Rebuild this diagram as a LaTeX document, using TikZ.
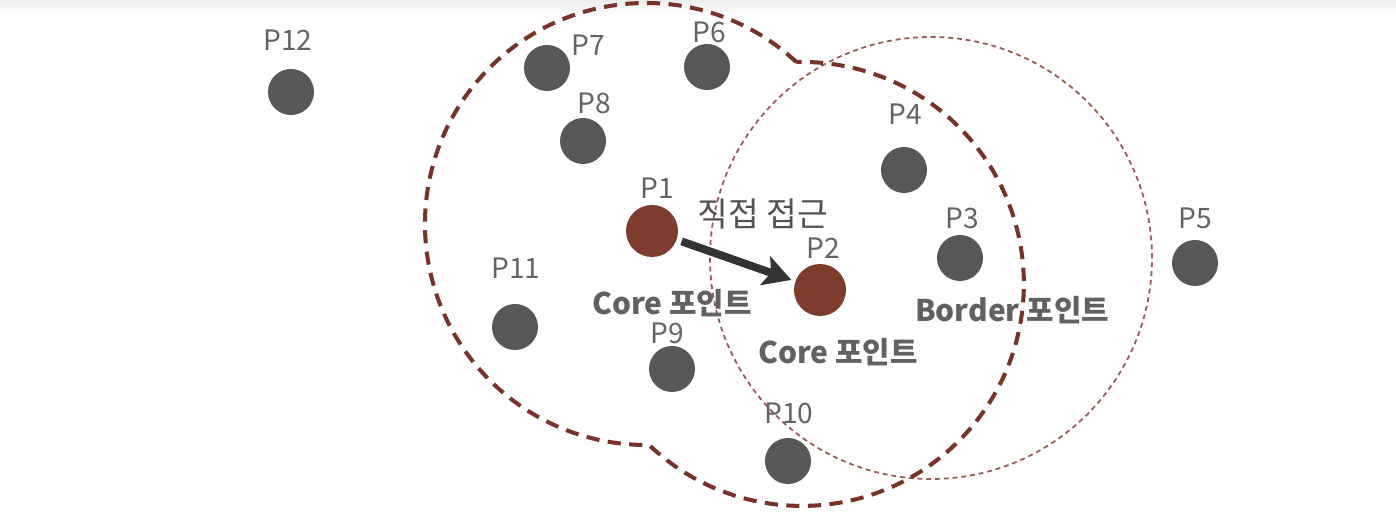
\documentclass[tikz,border=0pt]{standalone}
\usepackage{fontspec}
\setmainfont{Noto Sans CJK KR}
\usepackage{tikz}
\usetikzlibrary{positioning,arrows.meta}
\definecolor{ptgray}{RGB}{87,87,87}
\definecolor{corered}{RGB}{125,60,44}
\definecolor{edgered}{RGB}{120,50,40}
\definecolor{txtgray}{RGB}{100,100,100}
\tikzstyle{gpoint}=[circle, fill=ptgray, minimum size=0.92cm, inner sep=0pt]
\tikzstyle{cpoint}=[circle, fill=corered, minimum size=1.04cm, inner sep=0pt]
\tikzstyle{plabel}=[text=txtgray, font=\fontsize{16}{18}\selectfont, inner sep=0pt]
\tikzstyle{tag}=[text=black!62, font=\bfseries\fontsize{17}{20}\selectfont, inner sep=0pt]
\tikzstyle{coreline}=[edgered, line width=2.3pt, dash pattern=on 7.5pt off 4.8pt]
\tikzstyle{reachline}=[edgered!80, line width=1pt, dash pattern=on 2.8pt off 2.2pt]

\begin{document}
\begin{tikzpicture}
            \useasboundingbox (0,0) rectangle (27.92,10.48);
            \shade[top color=black!7, bottom color=white] (0,10.18) rectangle (27.92,10.48);

            % neighbourhoods
            \draw[reachline] (18.62,5.32) circle (4.42);
            \draw[coreline] (15.928,9.238) arc[start angle=47.1, end angle=270.8, radius=4.42]
                arc[start angle=226.5, end angle=451.4, radius=4.44] -- cycle;

            \node[gpoint] (p12) at (5.82,8.64) {};
            \node[gpoint] (p7) at (10.94,9.12) {};
            \node[gpoint] (p6) at (14.14,9.14) {};
            \node[gpoint] (p8) at (11.66,7.66) {};
            \node[gpoint] (p4) at (18.08,7.08) {};
            \node[cpoint] (p1) at (13.04,5.86) {};
            \node[gpoint] (p3) at (19.20,5.32) {};
            \node[gpoint] (p5) at (23.90,5.22) {};
            \node[cpoint] (p2) at (16.40,4.68) {};
            \node[gpoint] (p11) at (10.30,3.94) {};
            \node[gpoint] (p9) at (13.44,3.10) {};
            \node[gpoint] (p10) at (15.76,1.26) {};

            \node[plabel] (l12) at (5.76,9.68) {P12};
            \node[plabel] (l7) at (11.76,9.58) {P7};
            \node[plabel] (l6) at (14.18,9.84) {P6};
            \node[plabel] (l8) at (11.88,8.42) {P8};
            \node[plabel] (l4) at (18.10,8.20) {P4};
            \node[plabel] (l1) at (13.14,6.72) {P1};
            \node[plabel] (l3) at (19.24,6.12) {P3};
            \node[plabel] (l5) at (23.90,6.12) {P5};
            \node[plabel] (l2) at (16.46,5.52) {P2};
            \node[plabel] (l11) at (10.32,5.12) {P11};
            \node[plabel] (l9) at (13.34,3.82) {P9};
            \node[plabel] (l10) at (15.78,2.22) {P10};

            \node[text=black!68, font=\fontsize{19}{21}\selectfont, inner sep=0pt] (direct) at (15.26,6.20) {직접 접근};
            \node[tag] (core1) at (13.44,4.42) {Core 포인트};
            \node[tag] (core2) at (16.76,3.44) {Core 포인트};
            \node[tag] (border) at (20.24,4.28) {Border 포인트};

            \draw[-{Stealth[length=0.55cm, width=0.6cm, inset=0.12cm]}, black!80, line width=4.5pt,
                shorten <=0.1cm, shorten >=0.08cm] (p1) -- (p2);
        \end{tikzpicture}
\end{document}
